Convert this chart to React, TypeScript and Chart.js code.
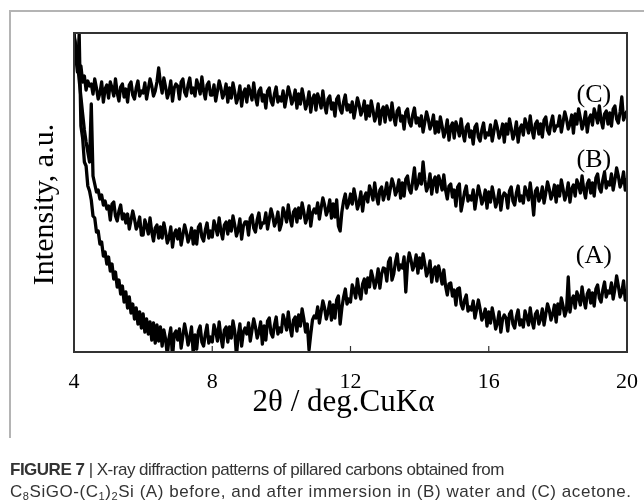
import React, { useEffect, useRef } from "react";
import { Chart, registerables } from "chart.js";

Chart.register(...registerables);

// 2θ sampling grid (deg), 0.05° step from 4 to 20
const twoTheta: number[] = Array.from({ length: 321 }, (_, i) => +(4 + i * 0.05).toFixed(2));

// Intensity (a.u.), one row = 0.5°
const seriesC: number[] = [
  318, 305, 290, 281, 286, 270, 276, 262, 271, 266,
  268, 258, 273, 264, 253, 259, 270, 250, 263, 267,
  254, 270, 264, 256, 273, 259, 251, 265, 268, 255,
  263, 250, 267, 270, 257, 253, 264, 271, 256, 261,
  259, 269, 253, 263, 273, 266, 256, 261, 270, 284,
  269, 259, 274, 265, 254, 260, 271, 251, 264, 268,
  266, 253, 270, 273, 260, 256, 267, 274, 259, 264,
  256, 272, 266, 258, 275, 261, 253, 267, 270, 257,
  257, 267, 251, 261, 271, 264, 254, 259, 268, 250,
  264, 254, 269, 260, 249, 255, 266, 246, 259, 263,
  250, 266, 260, 252, 269, 255, 247, 261, 264, 251,
  257, 244, 261, 264, 251, 247, 258, 265, 250, 255,
  251, 261, 245, 255, 265, 258, 248, 253, 262, 244,
  258, 248, 263, 254, 243, 249, 260, 240, 253, 257,
  242, 258, 252, 244, 261, 247, 239, 253, 256, 243,
  249, 236, 253, 256, 243, 239, 250, 257, 242, 247,
  240, 250, 234, 244, 254, 247, 237, 242, 251, 233,
  246, 236, 251, 242, 231, 237, 248, 228, 241, 245,
  230, 246, 240, 232, 249, 235, 227, 241, 244, 231,
  236, 223, 240, 243, 230, 226, 237, 244, 229, 234,
  226, 236, 220, 230, 240, 233, 223, 228, 237, 219,
  230, 220, 235, 226, 215, 221, 232, 212, 225, 229,
  214, 230, 224, 216, 233, 219, 211, 225, 228, 215,
  221, 208, 225, 228, 215, 211, 222, 229, 214, 219,
  217, 227, 211, 221, 231, 224, 214, 219, 228, 210,
  228, 218, 233, 224, 213, 219, 230, 210, 223, 227,
  217, 233, 227, 219, 236, 222, 214, 228, 231, 218,
  228, 215, 232, 235, 222, 218, 229, 236, 221, 226,
  226, 236, 220, 230, 240, 233, 223, 228, 237, 219,
  238, 228, 243, 234, 223, 229, 240, 220, 233, 237,
  227, 243, 237, 229, 246, 232, 224, 238, 241, 228,
  239, 226, 243, 246, 233, 229, 240, 255, 232, 237,
  241,
];

const seriesB: number[] = [
  315, 306, 290, 272, 255, 238, 222, 210, 200, 190,
  248, 176, 168, 160, 162, 153, 157, 147, 151, 143,
  146, 132, 148, 150, 136, 131, 141, 147, 133, 138,
  129, 138, 123, 132, 141, 133, 123, 127, 135, 117,
  117, 132, 126, 118, 134, 120, 111, 124, 127, 114,
  125, 114, 129, 120, 109, 114, 125, 105, 118, 122,
  113, 123, 107, 117, 127, 120, 110, 115, 124, 108,
  121, 108, 125, 128, 115, 111, 122, 129, 114, 121,
  115, 131, 125, 117, 134, 121, 113, 127, 130, 118,
  131, 121, 136, 127, 116, 122, 133, 113, 126, 130,
  130, 117, 134, 137, 124, 120, 132, 139, 124, 129,
  129, 139, 123, 133, 143, 136, 126, 131, 140, 122,
  128, 144, 138, 130, 147, 134, 126, 140, 143, 130,
  144, 134, 149, 140, 129, 135, 146, 126, 139, 143,
  139, 149, 133, 144, 154, 147, 137, 142, 152, 134,
  148, 135, 152, 126, 121, 140, 151, 158, 144, 149,
  158, 148, 163, 154, 143, 149, 160, 141, 155, 159,
  150, 166, 160, 152, 169, 156, 148, 162, 165, 152,
  159, 169, 153, 163, 173, 167, 157, 162, 172, 154,
  169, 156, 173, 176, 163, 159, 171, 184, 163, 168,
  178, 168, 190, 172, 161, 166, 178, 158, 171, 175,
  160, 176, 170, 162, 177, 162, 153, 166, 168, 155,
  162, 146, 165, 168, 141, 150, 160, 166, 151, 156,
  152, 162, 143, 155, 166, 158, 148, 153, 162, 144,
  160, 150, 165, 156, 145, 151, 162, 142, 155, 159,
  157, 144, 161, 165, 151, 147, 159, 166, 151, 156,
  149, 165, 160, 152, 169, 155, 137, 161, 164, 151,
  155, 165, 149, 159, 170, 163, 153, 158, 167, 150,
  166, 156, 172, 163, 152, 158, 169, 150, 163, 167,
  156, 172, 167, 159, 176, 162, 154, 168, 172, 159,
  169, 156, 174, 178, 164, 160, 172, 180, 164, 170,
  167, 178, 162, 172, 184, 176, 165, 170, 180, 162,
  174,
];

const seriesA: number[] = [
  319, 296, 280, 318, 226, 214, 190, 186, 166, 161,
  152, 136, 134, 120, 121, 108, 110, 96, 100, 88,
  95, 81, 88, 73, 80, 65, 72, 58, 66, 50,
  60, 44, 55, 39, 48, 33, 44, 28, 40, 24,
  38, 20, 33, 18, 30, 12, 29, 9, 27, 11,
  25, 6, 22, 13, -3, 14, 24, -6, 18, 21,
  12, 23, 4, 16, 28, 19, 7, 14, 25, -2,
  17, 3, 21, 26, 10, 6, 18, 27, 9, 15,
  10, 27, 21, 11, 30, 15, 5, 22, 25, 10,
  25, 14, 31, 21, -4, 16, 28, 6, 20, 24,
  18, 29, 11, 22, 33, 25, 14, 20, 30, 8,
  26, 12, 31, 34, 19, 15, 27, 35, 18, 24,
  20, 37, 31, 22, 40, 25, 16, 32, 35, 21,
  37, 26, 43, 33, 20, 28, 2, 18, 32, 36,
  34, 45, 29, 40, 51, 44, 33, 40, 50, 32,
  47, 34, 52, 56, 28, 44, 55, 63, 48, 53,
  50, 67, 62, 54, 73, 60, 53, 68, 73, 59,
  74, 65, 81, 74, 64, 71, 83, 64, 78, 84,
  83, 71, 90, 94, 72, 78, 90, 98, 82, 87,
  84, 95, 60, 88, 99, 92, 82, 87, 97, 79,
  94, 84, 98, 88, 76, 81, 91, 70, 82, 85,
  71, 86, 78, 68, 82, 66, 57, 68, 69, 56,
  62, 47, 63, 64, 48, 43, 52, 57, 41, 45,
  42, 51, 34, 43, 52, 43, 32, 36, 43, 26,
  40, 29, 44, 35, 23, 29, 40, 20, 33, 37,
  34, 21, 38, 41, 28, 24, 35, 42, 27, 32,
  25, 41, 35, 27, 44, 31, 24, 38, 41, 28,
  33, 43, 27, 38, 48, 42, 32, 38, 47, 30,
  48, 38, 54, 46, 36, 42, 75, 40, 52, 56,
  44, 60, 55, 47, 65, 52, 44, 58, 62, 49,
  59, 46, 63, 67, 54, 50, 62, 70, 55, 61,
  59, 69, 53, 63, 76, 66, 55, 60, 71, 52,
  63,
];

const xTicks: number[] = [4, 8, 12, 16, 20];
const curveLabels: string[] = ["(C)", "(B)", "(A)"];
const curveLabelX: number[] = [19.04, 19.04, 19.04];
const curveLabelY: number[] = [257, 192, 96];

const xTitle = "2\u03b8 / deg.CuK\u03b1";
const yTitle = "Intensity, a.u.";

const SERIF = '"Liberation Serif", "Times New Roman", serif';

const decorPlugin = {
  id: "decor",
  afterDraw(chart: any) {
    const ctx = chart.ctx as CanvasRenderingContext2D;
    const { left, right, top, bottom } = chart.chartArea;
    const xs = chart.scales.x;
    const ys = chart.scales.y;
    ctx.save();
    // outer light frame
    ctx.strokeStyle = "#b4b4b4";
    ctx.lineWidth = 2;
    ctx.beginPath();
    ctx.moveTo(10, 438);
    ctx.lineTo(10, 11);
    ctx.lineTo(650, 11);
    ctx.stroke();
    // plot frame
    ctx.strokeStyle = "#333";
    ctx.lineWidth = 2;
    ctx.strokeRect(left, top, right - left, bottom - top);
    // inward ticks + labels
    ctx.lineWidth = 1.2;
    ctx.fillStyle = "#000";
    ctx.font = `22px ${SERIF}`;
    ctx.textAlign = "center";
    ctx.textBaseline = "alphabetic";
    xTicks.forEach((v) => {
      const px = xs.getPixelForValue(v);
      ctx.beginPath();
      ctx.moveTo(px, bottom);
      ctx.lineTo(px, bottom - 6);
      ctx.stroke();
      ctx.fillText(String(v), px, 388);
    });
    // axis titles
    ctx.font = `31px ${SERIF}`;
    ctx.fillText(xTitle, (left + right) / 2 - 7, 411);
    ctx.font = `30px ${SERIF}`;
    ctx.save();
    ctx.translate(53, (top + bottom) / 2 + 12);
    ctx.rotate(-Math.PI / 2);
    ctx.fillText(yTitle, 0, 0);
    ctx.restore();
    // curve labels
    ctx.font = `26px ${SERIF}`;
    ctx.textBaseline = "middle";
    curveLabels.forEach((t, i) => {
      ctx.fillText(t, xs.getPixelForValue(curveLabelX[i]), ys.getPixelForValue(curveLabelY[i]));
    });
    ctx.restore();
  },
};

function XrdChart() {
  const ref = useRef<HTMLCanvasElement | null>(null);
  useEffect(() => {
    if (!ref.current) return;
    const mk = (vals: number[]) => vals.map((y, i) => ({ x: twoTheta[i], y }));
    const ds = (label: string, vals: number[]) => ({
      label,
      data: mk(vals),
      borderColor: "#000",
      borderWidth: 3.3,
      pointRadius: 0,
      tension: 0,
      borderJoinStyle: "round" as const,
      clip: 0,
    });
    const chart = new Chart(ref.current, {
      type: "line",
      data: {
        datasets: [ds("(A)", seriesA), ds("(B)", seriesB), ds("(C)", seriesC)],
      },
      options: {
        animation: false,
        responsive: false,
        maintainAspectRatio: false,
        devicePixelRatio: 1,
        layout: { padding: { left: 74, top: 33, right: 17, bottom: 152 } },
        scales: {
          x: { type: "linear", min: 4, max: 20, display: false },
          y: { min: 0, max: 319, display: false },
        },
        plugins: { legend: { display: false }, tooltip: { enabled: false } },
      },
      plugins: [decorPlugin],
    });
    return () => chart.destroy();
  }, []);
  return <canvas ref={ref} width={644} height={504} style={{ position: "absolute", left: 0, top: 0 }} />;
}

const subStyle: React.CSSProperties = { fontSize: "0.65em", verticalAlign: "-0.25em", lineHeight: 0 };

export default function App() {
  return (
    <div style={{ position: "fixed", left: 0, top: 0, width: 644, height: 504, background: "#fff", overflow: "hidden" }}>
      <XrdChart />
      <div
        style={{
          position: "absolute",
          left: 10,
          top: 459,
          width: 640,
          fontFamily: '"Liberation Sans", Arial, sans-serif',
          fontSize: 17,
          lineHeight: "22px",
          color: "#333",
          whiteSpace: "nowrap",
        }}
      >
        <div style={{ letterSpacing: "-0.5px" }}>
          <b>FIGURE 7</b> | X-ray diffraction patterns of pillared carbons obtained from
        </div>
        <div style={{ letterSpacing: "0.55px" }}>
          C<span style={subStyle}>8</span>SiGO-(C<span style={subStyle}>1</span>)<span style={subStyle}>2</span>Si (A) before, and after immersion in (B) water and (C) acetone.
        </div>
      </div>
    </div>
  );
}
